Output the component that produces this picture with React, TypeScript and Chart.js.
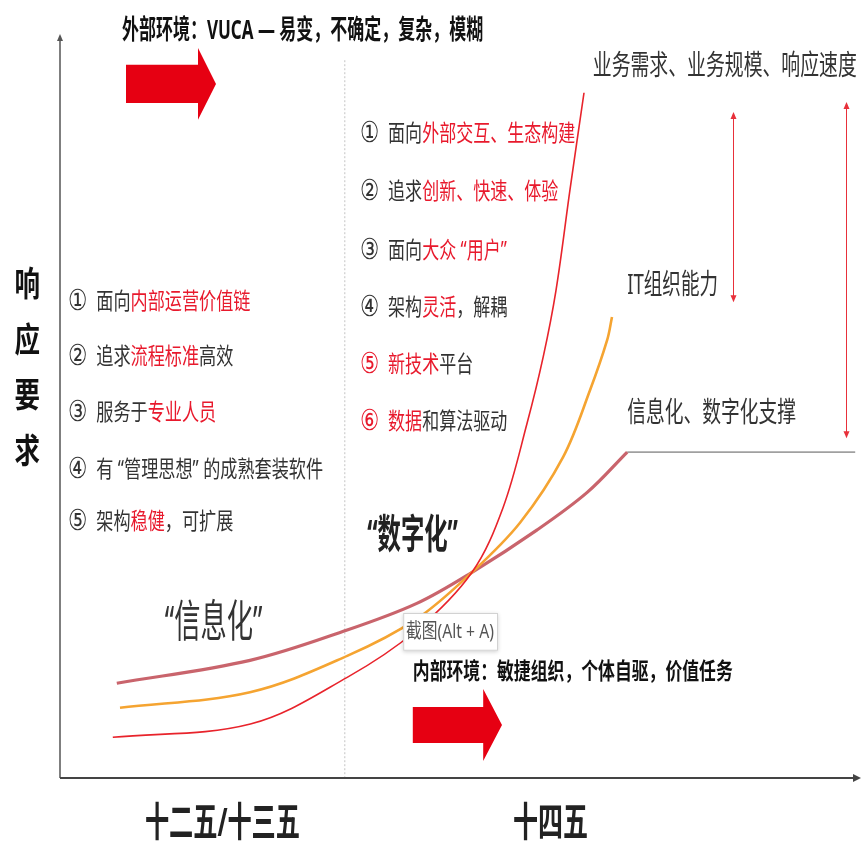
import React, { useEffect, useRef } from 'react';
import { Chart, registerables } from 'chart.js';

Chart.register(...registerables);

// x: time along the planning periods (0..100), y: 响应要求 (0..100)
const demandX = [6.6, 23.8, 35.9, 44.6, 51.5, 55.4, 58.4, 60.4, 62.0, 63.75, 65.5];
const demandY = [5.5, 7.3, 13.6, 20.0, 27.8, 36.6, 48.0, 56.9, 65.9, 79.5, 92.6];
const capabilityX = [7.5, 23.75, 35.9, 44.6, 51.5, 57.5, 62.9, 66.25, 68.4, 69.0];
const capabilityY = [9.5, 11.6, 16.5, 21.5, 27.8, 34.5, 43.4, 52.4, 59.2, 62.3];
const supportX = [7.1, 23.75, 35.9, 44.6, 51.5, 59.6, 65.9, 70.9];
const supportY = [12.8, 15.9, 20.0, 23.6, 27.8, 33.5, 38.6, 44.05];
const plateauX = [70.9, 99.4];
const plateauY = [44.05, 44.05];

const periodLabels = ['十二五/十三五', '十四五'];
const periodCenters = [20.3, 61.3];
const periodWidths = [155, 75];
const eraBoundary = 35.6;

const seriesNames = ['业务需求、业务规模、响应速度', 'IT组织能力', '信息化、数字化支撑'];
const yTitleChars = ['响', '应', '要', '求'];
const yTitleRows = [66.5, 58.9, 51.4, 43.9];

const INK = '#111111';
const GRAY = '#333333';
const RED = '#e8192c';
const FF = "'Noto Sans', 'Noto Sans CJK SC', sans-serif";
const NUM = "29px 'DejaVu Sans', 'Noto Sans CJK SC', sans-serif";

type Seg = [string, string, string?];

const leftList: Seg[][] = [
  [['①', GRAY, NUM], ['  面向', GRAY], ['内部运营价值链', RED]],
  [['②', GRAY, NUM], ['  追求', GRAY], ['流程标准', RED], ['高效', GRAY]],
  [['③', GRAY, NUM], ['  服务于', GRAY], ['专业人员', RED]],
  [['④', GRAY, NUM], ['  有 “管理思想” 的成熟套装软件', GRAY]],
  [['⑤', GRAY, NUM], ['  架构', GRAY], ['稳健', RED], ['，可扩展', GRAY]],
];
const leftListRows = [64.2, 56.8, 49.3, 41.6, 34.5];

const rightList: Seg[][] = [
  [['①', GRAY, NUM], ['  面向', GRAY], ['外部交互、生态构建', RED]],
  [['②', GRAY, NUM], ['  追求', GRAY], ['创新、快速、体验', RED]],
  [['③', GRAY, NUM], ['  面向', GRAY], ['大众 “用户”', RED]],
  [['④', GRAY, NUM], ['  架构', GRAY], ['灵活', RED], ['，解耦', GRAY]],
  [['⑤', RED, NUM], ['  新技术', RED], ['平台', GRAY]],
  [['⑥', RED, NUM], ['  数据', RED], ['和算法驱动', GRAY]],
];
const rightListRows = [86.9, 79.1, 71.1, 63.5, 55.8, 48.1];

type Label = { segs: Seg[]; x: number; x2: number; y: number; size: number; bold: boolean };
const labels: Label[] = [
  { segs: [['外部环境：VUCA — 易变，不确定，复杂，模糊', INK]], x: 7.75, x2: 52.9, y: 100.9, size: 27, bold: true },
  { segs: [[seriesNames[0], GRAY]], x: 66.6, x2: 99.6, y: 96.1, size: 28, bold: false },
  { segs: [[seriesNames[1], GRAY]], x: 70.9, x2: 82.25, y: 66.5, size: 28, bold: false },
  { segs: [[seriesNames[2], GRAY]], x: 70.9, x2: 92.0, y: 49.2, size: 28, bold: false },
  { segs: [['“信息化”', GRAY]], x: 13.1, x2: 25.3, y: 20.7, size: 44, bold: false },
  { segs: [['“数字化”', '#222222']], x: 38.4, x2: 49.75, y: 32.6, size: 40, bold: true },
  { segs: [['内部环境：敏捷组织，个体自驱，价值任务', INK]], x: 44.1, x2: 84.1, y: 14.3, size: 23, bold: true },
];

const blockArrows = [
  { x0: 8.25, x1: 17.25, x2: 19.5, y: 93.8, body: 2.57, head: 4.86 },
  { x0: 44.1, x1: 52.9, x2: 55.25, y: 7.16, body: 2.43, head: 4.86 },
];
const rangeArrows = [
  { x: 84.1, top: 90.0, bottom: 64.3 },
  { x: 98.25, top: 91.35, bottom: 45.9 },
];
const tipBox = { x1: 42.9, x2: 54.75, top: 22.3, bottom: 17.2, textX: 43.25, textX2: 54.25, textY: 19.7, text: '截图(Alt + A)' };

function drawSegs(
  ctx: CanvasRenderingContext2D,
  segs: Seg[],
  x: number,
  y: number,
  weightSize: string,
  fit: { width?: number; scaleX?: number; align?: 'left' | 'center' }
) {
  ctx.save();
  ctx.textBaseline = 'middle';
  ctx.textAlign = 'left';
  const fonts = segs.map((s) => s[2] ?? `${weightSize} ${FF}`);
  const widths = segs.map((s, i) => {
    ctx.font = fonts[i];
    return ctx.measureText(s[0]).width;
  });
  const total = widths.reduce((a, b) => a + b, 0);
  const sx = fit.width ? fit.width / total : fit.scaleX ?? 1;
  const w = total * sx;
  const left = fit.align === 'center' ? x - w / 2 : x;
  ctx.translate(left, y);
  ctx.scale(sx, 1);
  let cx = 0;
  segs.forEach((s, i) => {
    ctx.font = fonts[i];
    ctx.fillStyle = s[1];
    ctx.fillText(s[0], cx, 0);
    cx += widths[i];
  });
  ctx.restore();
}

const diagramPlugin = {
  id: 'diagram',
  beforeDatasetsDraw(chart: any) {
    const ctx: CanvasRenderingContext2D = chart.ctx;
    const xs = chart.scales.x;
    const ys = chart.scales.y;
    const X = (v: number) => xs.getPixelForValue(v);
    const Y = (v: number) => ys.getPixelForValue(v);

    ctx.save();
    // era separator
    ctx.strokeStyle = '#c4c4c4';
    ctx.lineWidth = 1;
    ctx.setLineDash([2, 2]);
    ctx.beginPath();
    ctx.moveTo(X(eraBoundary), Y(97));
    ctx.lineTo(X(eraBoundary), Y(0));
    ctx.stroke();
    ctx.setLineDash([]);

    // y axis
    ctx.strokeStyle = '#555555';
    ctx.lineWidth = 1.5;
    ctx.beginPath();
    ctx.moveTo(X(0), Y(0));
    ctx.lineTo(X(0), Y(100));
    ctx.stroke();
    ctx.fillStyle = '#555555';
    ctx.beginPath();
    ctx.moveTo(X(0), Y(100) - 4);
    ctx.lineTo(X(0) - 3, Y(100) + 3);
    ctx.lineTo(X(0) + 3, Y(100) + 3);
    ctx.closePath();
    ctx.fill();

    // x axis
    ctx.strokeStyle = '#444444';
    ctx.lineWidth = 2;
    ctx.beginPath();
    ctx.moveTo(X(0), Y(0));
    ctx.lineTo(X(100) - 3, Y(0));
    ctx.stroke();
    ctx.fillStyle = '#444444';
    ctx.beginPath();
    ctx.moveTo(X(100) + 1, Y(0));
    ctx.lineTo(X(100) - 7, Y(0) - 4);
    ctx.lineTo(X(100) - 7, Y(0) + 4);
    ctx.closePath();
    ctx.fill();

    // block arrows
    ctx.fillStyle = '#e60012';
    blockArrows.forEach((a) => {
      const x0 = X(a.x0), x1 = X(a.x1), x2 = X(a.x2), yc = Y(a.y);
      const bh = Y(a.y - a.body) - yc;
      const hh = Y(a.y - a.head) - yc;
      ctx.beginPath();
      ctx.moveTo(x0, yc - bh);
      ctx.lineTo(x1, yc - bh);
      ctx.lineTo(x1, yc - hh);
      ctx.lineTo(x2, yc);
      ctx.lineTo(x1, yc + hh);
      ctx.lineTo(x1, yc + bh);
      ctx.lineTo(x0, yc + bh);
      ctx.closePath();
      ctx.fill();
    });

    // range arrows
    ctx.strokeStyle = '#e8303a';
    ctx.fillStyle = '#e8303a';
    ctx.lineWidth = 1;
    rangeArrows.forEach((r) => {
      const x = Math.round(X(r.x)) + 0.5, t = Y(r.top), b = Y(r.bottom);
      ctx.beginPath();
      ctx.moveTo(x, t + 4);
      ctx.lineTo(x, b - 4);
      ctx.stroke();
      ctx.beginPath();
      ctx.moveTo(x, t);
      ctx.lineTo(x - 3, t + 7);
      ctx.lineTo(x + 3, t + 7);
      ctx.closePath();
      ctx.fill();
      ctx.beginPath();
      ctx.moveTo(x, b);
      ctx.lineTo(x - 3, b - 7);
      ctx.lineTo(x + 3, b - 7);
      ctx.closePath();
      ctx.fill();
    });
    ctx.restore();
  },
  afterDatasetsDraw(chart: any) {
    const ctx: CanvasRenderingContext2D = chart.ctx;
    const xs = chart.scales.x;
    const ys = chart.scales.y;
    const X = (v: number) => xs.getPixelForValue(v);
    const Y = (v: number) => ys.getPixelForValue(v);

    labels.forEach((l) => {
      drawSegs(ctx, l.segs, X(l.x), Y(l.y), `${l.bold ? 'bold ' : ''}${l.size}px`, {
        width: X(l.x2) - X(l.x),
      });
    });

    leftList.forEach((segs, i) => {
      drawSegs(ctx, segs, X(1.0), Y(leftListRows[i]), '23px', { scaleX: 0.745 });
    });
    rightList.forEach((segs, i) => {
      drawSegs(ctx, segs, X(37.5), Y(rightListRows[i]), '23px', { scaleX: 0.74 });
    });

    // y axis title
    yTitleChars.forEach((c, i) => {
      drawSegs(ctx, [[c, INK]], X(-4.1), Y(yTitleRows[i]), 'bold 34px', { scaleX: 0.75, align: 'center' });
    });

    // period labels on the x axis
    periodLabels.forEach((p, i) => {
      drawSegs(ctx, [[p, '#222222']], X(periodCenters[i]), Y(-6.35), 'bold 40px', {
        width: periodWidths[i],
        align: 'center',
      });
    });

    // screenshot tip box
    ctx.save();
    const bx = X(tipBox.x1), by = Y(tipBox.top), bw = X(tipBox.x2) - bx, bh = Y(tipBox.bottom) - by;
    ctx.shadowColor = 'rgba(0,0,0,0.18)';
    ctx.shadowBlur = 4;
    ctx.shadowOffsetY = 1;
    ctx.fillStyle = '#ffffff';
    ctx.fillRect(bx, by, bw, bh);
    ctx.shadowColor = 'transparent';
    ctx.strokeStyle = '#d2d2d2';
    ctx.lineWidth = 1;
    ctx.strokeRect(bx + 0.5, by + 0.5, bw - 1, bh - 1);
    ctx.restore();
    drawSegs(ctx, [[tipBox.text, '#555555']], X(tipBox.textX), Y(tipBox.textY), '20px', {
      width: X(tipBox.textX2) - X(tipBox.textX),
    });
  },
};

const zip = (xs: number[], ys: number[]) => xs.map((x, i) => ({ x, y: ys[i] }));

export default function App() {
  const ref = useRef<HTMLCanvasElement | null>(null);

  useEffect(() => {
    if (!ref.current) return;
    const curve = { pointRadius: 0, tension: 0.35, fill: false };
    const chart = new Chart(ref.current, {
      type: 'line',
      data: {
        datasets: [
          { label: seriesNames[0], data: zip(demandX, demandY), borderColor: '#e8232b', borderWidth: 1.6, ...curve },
          { label: seriesNames[1], data: zip(capabilityX, capabilityY), borderColor: '#f5a431', borderWidth: 2.6, ...curve },
          { label: seriesNames[2], data: zip(supportX, supportY), borderColor: '#c9646c', borderWidth: 3.2, ...curve },
          {
            label: seriesNames[2] + ' (plateau)',
            data: zip(plateauX, plateauY),
            borderColor: '#a0a0a0',
            borderWidth: 1.8,
            pointRadius: 0,
            tension: 0,
            fill: false,
          },
        ],
      },
      options: {
        responsive: false,
        animation: false,
        events: [],
        layout: { padding: { left: 60, right: 2, top: 38, bottom: 71 } },
        plugins: { legend: { display: false }, tooltip: { enabled: false } },
        scales: {
          x: { type: 'linear', min: 0, max: 100, display: false },
          y: { type: 'linear', min: 0, max: 100, display: false },
        },
      },
      plugins: [diagramPlugin],
    } as any);
    return () => chart.destroy();
  }, []);

  return (
    <div style={{ position: 'fixed', left: 0, top: 0, width: 862, height: 849, background: '#ffffff' }}>
      <canvas ref={ref} width={862} height={849} style={{ display: 'block' }} />
    </div>
  );
}
